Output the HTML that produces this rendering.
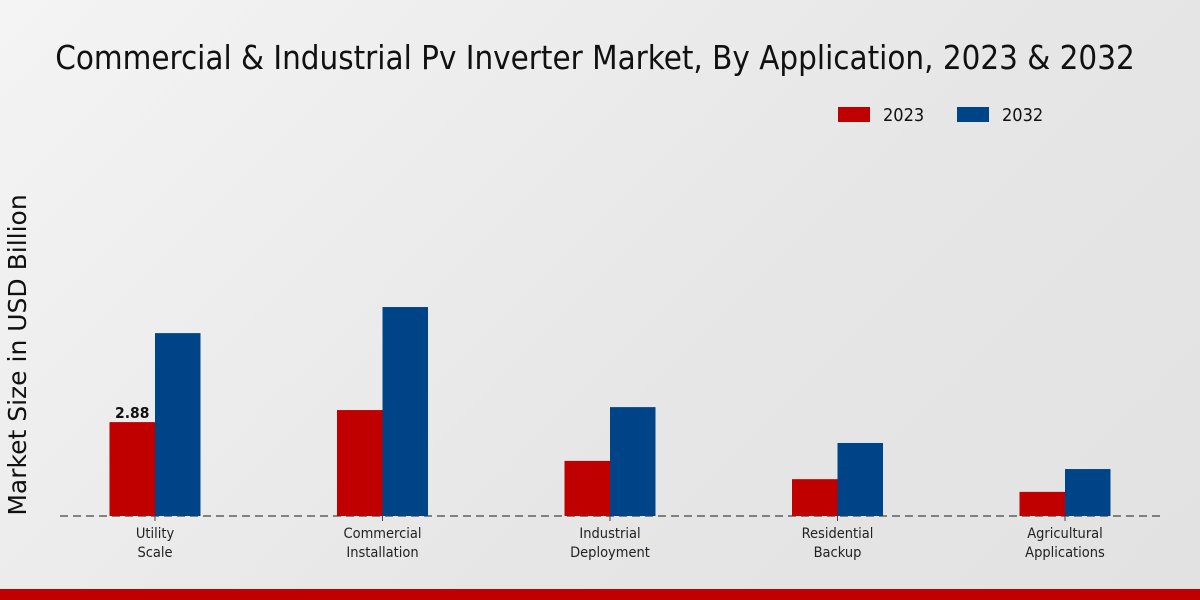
<!DOCTYPE html>
<html><head><meta charset="utf-8"><style>
body{margin:0;width:1200px;height:600px;overflow:hidden;background:linear-gradient(135deg,#f4f4f4 0%,#e6e6e6 60%,#e2e2e2 100%);font-family:"DejaVu Sans Condensed","DejaVu Sans","Liberation Sans",sans-serif;}
svg{position:absolute;left:0;top:0}
</style></head><body>
<svg id="chart" width="1200" height="600">
<text x="595" y="69" text-anchor="middle" font-size="32.8" fill="#111" font-family="DejaVu Sans Condensed, DejaVu Sans, sans-serif">Commercial &amp; Industrial Pv Inverter Market, By Application, 2023 &amp; 2032</text>
<g>
<rect x="838" y="107" width="32" height="15" fill="#c00000"/>
<text x="883" y="121" font-size="18" fill="#111">2023</text>
<rect x="957" y="107" width="32" height="15" fill="#004488"/>
<text x="1002" y="121" font-size="18" fill="#111">2032</text>
</g>
<text transform="translate(26,355) rotate(-90)" text-anchor="middle" font-size="25" fill="#111" font-family="DejaVu Sans, sans-serif">Market Size in USD Billion</text>
<line x1="60" y1="516" x2="1160" y2="516" stroke="#444" stroke-dasharray="8,5" stroke-width="1.2"/>
<g id="bars"></g>
<rect x="0" y="589" width="1200" height="11" fill="#c00000"/>
</svg>
<script>
const categories=[["Utility","Scale"],["Commercial","Installation"],["Industrial","Deployment"],["Residential","Backup"],["Agricultural","Applications"]];
const values2023=[2.88,3.25,1.69,1.13,0.74];
const values2032=[5.61,6.41,3.34,2.24,1.44];
const labels2023=["2.88",null,null,null,null];
const base=516,scale=32.6,x0=155,step=227.5,bw=45.5;
const y=v=>base-v*scale;
const xc=i=>x0+i*step;
const g=document.getElementById('bars');
const ns="http://www.w3.org/2000/svg";
function mk(t,a){const e=document.createElementNS(ns,t);for(const k in a)e.setAttribute(k,a[k]);g.appendChild(e);return e;}
categories.forEach((c,i)=>{
 const cx=xc(i);
 let r=mk('rect',{x:cx-bw,y:y(values2023[i]),width:bw,height:values2023[i]*scale,fill:'#c00000'});
 
 
 r=mk('rect',{x:cx,y:y(values2032[i]),width:bw,height:values2032[i]*scale,fill:'#004488'});
 
 
 const tk=mk('line',{x1:cx,y1:516,x2:cx,y2:521,stroke:'#444'});
 
 
 c.forEach((s,j)=>{
  const t=mk('text',{x:cx,y:538+j*19,'text-anchor':'middle','font-size':'14.5',fill:'#222'});
  t.textContent=s;
  
  
 });
 if(labels2023[i]){
  const t=mk('text',{x:cx-bw/2,y:y(values2023[i])-4,'text-anchor':'middle','font-size':'15.5','font-weight':'bold',fill:'#111'});
  t.textContent=labels2023[i];
  
  
 }
});
</script>
</body></html>
